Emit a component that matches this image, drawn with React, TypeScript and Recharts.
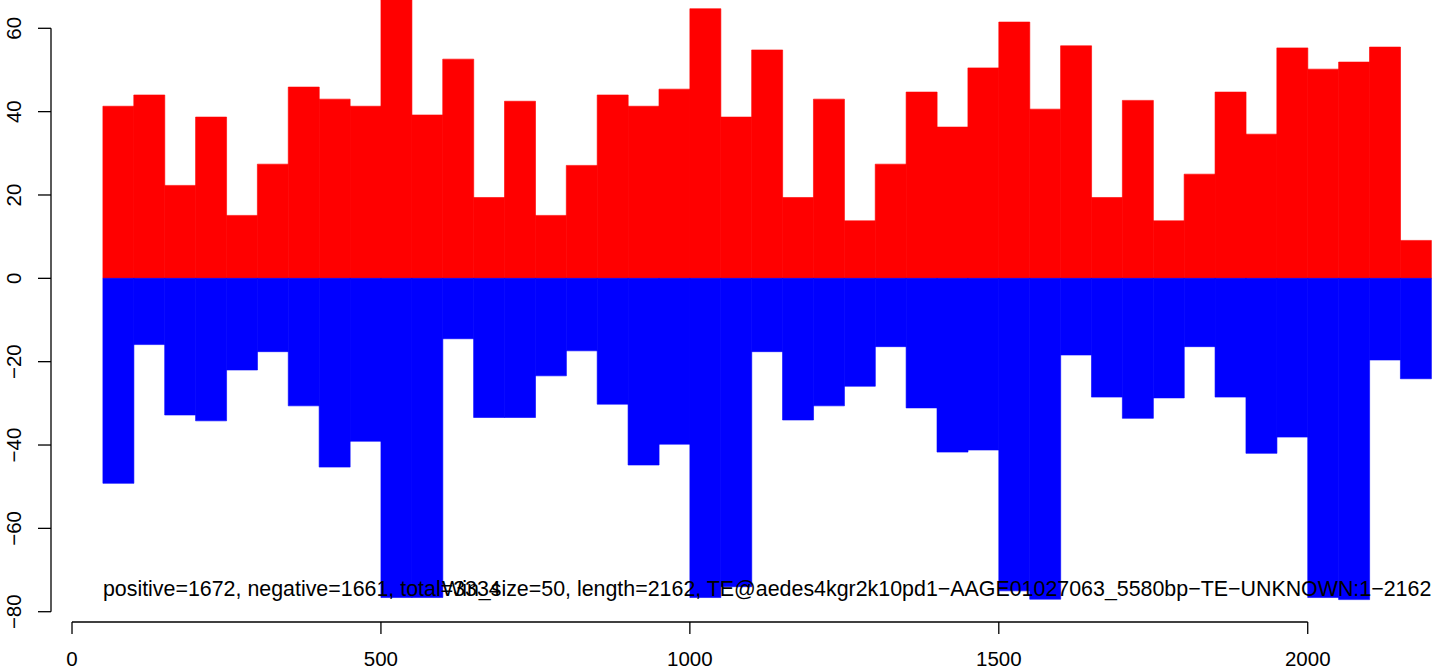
import React from 'react';
import { BarChart, Bar, XAxis, YAxis, ReferenceLine, ReferenceDot } from 'recharts';

// window size of the coverage histogram
const WIN = 50;

// counts above the line (red) per 50bp window, starting at 50
const positive = [
  41.3, 44, 22.3, 38.7, 15.1, 27.4, 45.9, 43, 41.3, 73,
  39.2, 52.6, 19.4, 42.5, 15.1, 27.1, 44, 41.3, 45.4, 64.7,
  38.7, 54.8, 19.4, 43, 13.8, 27.4, 44.7, 36.3, 50.5, 61.5,
  40.6, 55.8, 19.4, 42.7, 13.8, 25, 44.7, 34.6, 55.3, 50.2,
  51.9, 55.5, 9.1,
];

// counts below the line (blue)
const negative = [
  -49.2, -15.9, -32.8, -34.2, -22, -17.6, -30.6, -45.3, -39.1, -76.6,
  -76.6, -14.5, -33.4, -33.4, -23.4, -17.4, -30.2, -44.8, -39.8, -76.6,
  -74, -17.6, -34, -30.6, -25.9, -16.4, -31.1, -41.7, -41.2, -75,
  -77, -18.4, -28.5, -33.6, -28.7, -16.4, -28.5, -42, -38.1, -76.6,
  -77.1, -19.6, -24.1,
];

const xTicks = [0, 500, 1000, 1500, 2000];
const yTicks = [-80, -60, -40, -20, 0, 20, 40, 60];

const leftNote = 'positive=1672, negative=1661, total=3334';
const rightNote =
  'Win_size=50, length=2162, TE@aedes4kgr2k10pd1\u2212AAGE01027063_5580bp\u2212TE\u2212UNKNOWN:1\u22122162';

// axis extents (R style padding, plot cut off at top/right)
const X_MIN = -34;
const X_MAX = 2215.7;
const Y_MIN = -82.47;
const Y_MAX = 66.79;
const NOTE_Y = -76.2;

const FONT = '"Liberation Sans", Arial, Helvetica, sans-serif';

const data = positive.map((p, i) => ({
  x: WIN * (i + 1) + WIN / 2,
  pos: p,
  neg: negative[i],
}));

const XTick = (props: any) => {
  const { x, y, payload } = props;
  return (
    <text x={x} y={y} dy={29.5} textAnchor="middle" fontSize={20.5} fontFamily={FONT} fill="#000">
      {payload.value}
    </text>
  );
};

const YTick = (props: any) => {
  const { x, y, payload } = props;
  const label = String(payload.value).replace('-', '\u2212');
  return (
    <text
      x={0}
      y={0}
      transform={`translate(${x - 15},${y}) rotate(-90)`}
      textAnchor="middle"
      fontSize={20.5}
      fontFamily={FONT}
      fill="#000"
    >
      {label}
    </text>
  );
};

const note = (text: string, anchor: 'start' | 'end') => (props: any) => (
  <text x={props.cx} y={props.cy} textAnchor={anchor} fontSize={21.4} fontFamily={FONT} fill="#000">
    {text}
  </text>
);

export default function App() {
  return (
    <div style={{ width: 1441, height: 667 }}>
      <style>{'body{margin:0}'}</style>
      <BarChart
        width={1441}
        height={667}
        data={data}
        stackOffset="sign"
        barCategoryGap={0}
        barGap={0}
        margin={{ top: 0, right: 0, bottom: 0, left: 0 }}
      >
        <XAxis
          type="number"
          dataKey="x"
          domain={[X_MIN, X_MAX]}
          ticks={xTicks}
          allowDataOverflow
          axisLine={false}
          tickSize={12}
          tickLine={{ stroke: '#000', strokeWidth: 1.3 }}
          tick={<XTick />}
          height={45}
        />
        <YAxis
          type="number"
          domain={[Y_MIN, Y_MAX]}
          ticks={yTicks}
          allowDataOverflow
          axisLine={false}
          tickSize={13}
          tickLine={{ stroke: '#000', strokeWidth: 1.3 }}
          tick={<YTick />}
          width={51}
        />
        <Bar dataKey="pos" stackId="a" fill="#ff0000" stroke="#ff0000" strokeWidth={0.6} isAnimationActive={false} />
        <Bar dataKey="neg" stackId="a" fill="#0000ff" stroke="#0000ff" strokeWidth={0.6} isAnimationActive={false} />
        <ReferenceLine
          segment={[{ x: 0, y: Y_MIN }, { x: 2000, y: Y_MIN }]}
          stroke="#000"
          strokeWidth={1.3}
          ifOverflow="visible"
        />
        <ReferenceLine
          segment={[{ x: X_MIN, y: -80 }, { x: X_MIN, y: 60 }]}
          stroke="#000"
          strokeWidth={1.3}
          ifOverflow="visible"
        />
        <ReferenceDot x={50} y={NOTE_Y} r={0} ifOverflow="visible" shape={note(leftNote, 'start')} />
        <ReferenceDot x={2200} y={NOTE_Y} r={0} ifOverflow="visible" shape={note(rightNote, 'end')} />
      </BarChart>
    </div>
  );
}
